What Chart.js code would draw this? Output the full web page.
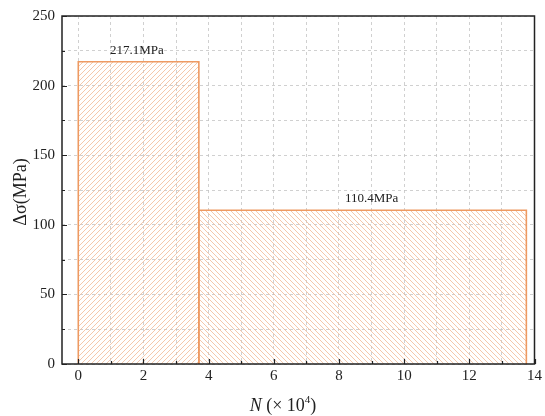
<!DOCTYPE html>
<html><head><meta charset="utf-8">
<script src="https://cdn.jsdelivr.net/npm/chart.js@4/dist/chart.umd.min.js"></script>
<style>html,body{margin:0;padding:0;background:#fff}</style>
</head><body>
<canvas id="c" width="545" height="416" style="width:545px;height:416px;display:block"></canvas>
<script>
// ---- data ----
const segStart = [0, 3.7];
const segEnd = [3.7, 13.75];
const stress = [217.1, 110.4];
const segLabels = ['217.1MPa', '110.4MPa'];
const labelX = [1.8, 9.0];
const hatchDir = [1, -1];
const xMajorTicks = [0, 2, 4, 6, 8, 10, 12, 14];
const yMajorTicks = [0, 50, 100, 150, 200, 250];

const SERIF = '"Liberation Serif", "Times New Roman", serif';
const canvas = document.getElementById('c');
const ctx0 = canvas.getContext('2d');

function hatch(dir) {
  const s = 5;
  const c = document.createElement('canvas');
  c.width = s; c.height = s;
  const g = c.getContext('2d');
  g.strokeStyle = 'rgb(243,186,150)';
  g.lineWidth = 0.8;
  g.beginPath();
  if (dir > 0) {
    g.moveTo(-1, s + 1); g.lineTo(s + 1, -1);
    g.moveTo(-2, 2); g.lineTo(2, -2);
    g.moveTo(s - 2, s + 2); g.lineTo(s + 2, s - 2);
  } else {
    g.moveTo(-1, -1); g.lineTo(s + 1, s + 1);
    g.moveTo(-2, s - 2); g.lineTo(2, s + 2);
    g.moveTo(s - 2, -2); g.lineTo(s + 2, 2);
  }
  g.stroke();
  return ctx0.createPattern(c, 'repeat');
}

const datasets = stress.map((v, i) => {
  const pat = hatch(hatchDir[i]);
  return {
    data: [
      {x: segStart[i], y: 0},
      {x: segStart[i], y: v},
      {x: segEnd[i], y: v},
      {x: segEnd[i], y: 0}
    ],
    borderColor: '#EE9A62',
    borderWidth: 1.6,
    pointRadius: 0,
    tension: 0,
    fill: {target: 'origin', above: pat, below: pat},
    backgroundColor: pat
  };
});

const decor = {
  id: 'decor',
  afterDraw(chart) {
    const {ctx, chartArea: a, scales: {x, y}} = chart;
    ctx.save();
    ctx.strokeStyle = '#222';
    ctx.lineWidth = 1.5;
    ctx.strokeRect(a.left, a.top, a.right - a.left, a.bottom - a.top);
    ctx.lineWidth = 1.2;
    ctx.beginPath();
    for (let v = 0; v <= 14; v++) {
      const px = Math.round(x.getPixelForValue(v)) + 0.5;
      const len = (v % 2 === 0) ? 5 : 3;
      ctx.moveTo(px, a.bottom); ctx.lineTo(px, a.bottom - len);
    }
    for (let v = 0; v <= 250; v += 25) {
      const py = Math.round(y.getPixelForValue(v)) + 0.5;
      const len = (v % 50 === 0) ? 5 : 3;
      ctx.moveTo(a.left, py); ctx.lineTo(a.left + len, py);
    }
    ctx.stroke();
    ctx.fillStyle = '#222';
    ctx.font = '13px ' + SERIF;
    ctx.textAlign = 'center';
    ctx.textBaseline = 'alphabetic';
    segLabels.forEach((t, i) => {
      ctx.fillText(t, x.getPixelForValue(labelX[i]), y.getPixelForValue(stress[i]) - 8);
    });
    const cx = 283, base = 411;
    ctx.font = 'italic 18px ' + SERIF;
    const p1 = 'N';
    const w1 = ctx.measureText(p1).width;
    ctx.font = '18px ' + SERIF;
    const p2 = ' (× 10';
    const w2 = ctx.measureText(p2).width;
    ctx.font = '11px ' + SERIF;
    const w3 = ctx.measureText('4').width;
    ctx.font = '18px ' + SERIF;
    const w4 = ctx.measureText(')').width;
    let sx = cx - (w1 + w2 + w3 + w4) / 2;
    ctx.textAlign = 'left';
    ctx.font = 'italic 18px ' + SERIF;
    ctx.fillText(p1, sx, base); sx += w1;
    ctx.font = '18px ' + SERIF;
    ctx.fillText(p2, sx, base); sx += w2;
    ctx.font = '11px ' + SERIF;
    ctx.fillText('4', sx, base - 8); sx += w3;
    ctx.font = '18px ' + SERIF;
    ctx.fillText(')', sx, base);
    ctx.translate(21, (a.top + a.bottom) / 2 + 2);
    ctx.rotate(-Math.PI / 2);
    ctx.textAlign = 'center';
    ctx.textBaseline = 'middle';
    ctx.font = '18px ' + SERIF;
    ctx.fillText('Δσ(MPa)', 0, 0);
    ctx.restore();
  }
};

new Chart(canvas, {
  type: 'line',
  data: {datasets},
  options: {
    responsive: false,
    animation: false,
    devicePixelRatio: 1,
    layout: {padding: {top: 15, right: 10, left: 0, bottom: 0}},
    plugins: {legend: {display: false}, tooltip: {enabled: false}},
    scales: {
      x: {
        type: 'linear',
        min: -0.5, max: 14,
        afterBuildTicks: s => { s.ticks = Array.from({length: 15}, (_, i) => ({value: i})); },
        afterFit: s => { s.height = 52; },
        ticks: {
          callback: v => xMajorTicks.includes(v) ? String(v) : '',
          autoSkip: false, maxRotation: 0,
          font: {family: SERIF, size: 15}, color: '#222', padding: 3
        },
        grid: {color: '#c4c4c4', lineWidth: 0.8, drawTicks: false},
        border: {display: false, dash: [3, 3]}
      },
      y: {
        min: 0, max: 250,
        afterBuildTicks: s => { s.ticks = Array.from({length: 11}, (_, i) => ({value: i * 25})); },
        afterFit: s => { s.width = 62; },
        ticks: {
          callback: v => yMajorTicks.includes(v) ? String(v) : '',
          autoSkip: false,
          font: {family: SERIF, size: 15}, color: '#222', padding: 7
        },
        grid: {color: '#c4c4c4', lineWidth: 0.8, drawTicks: false},
        border: {display: false, dash: [3, 3]}
      }
    }
  },
  plugins: [decor]
});
</script>
</body></html>
